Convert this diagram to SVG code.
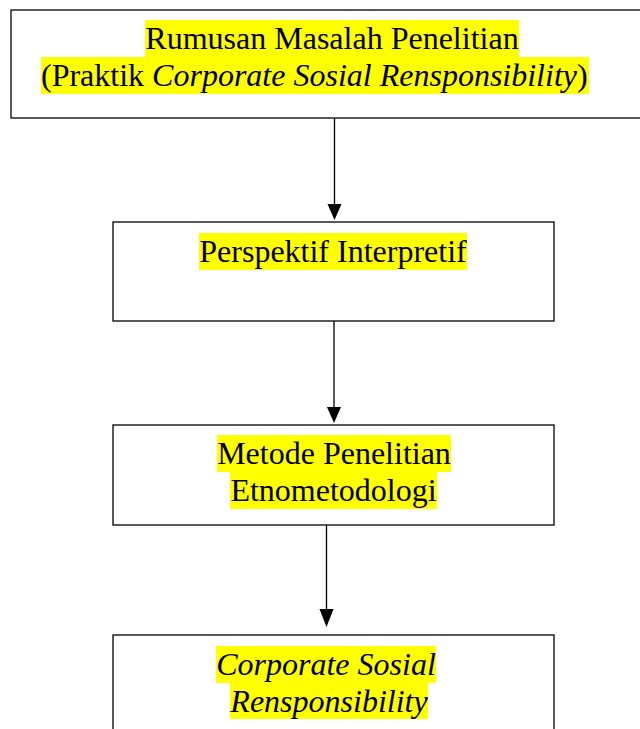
<svg xmlns="http://www.w3.org/2000/svg" width="640" height="729" viewBox="0 0 640 729">
<style>
.box{fill:#fff;stroke:#000;stroke-width:1.3}
.hl{fill:#ffff00}
.t{font-family:"Liberation Serif","Times New Roman",serif;font-size:32px;fill:#000}
.i{font-style:italic}
.c{stroke:#000;stroke-width:1.3;fill:none}
.ah{fill:#000}
</style>
<g id="connectors">
<line class="c" x1="334.5" y1="118" x2="334.5" y2="205"/>
<path class="ah" d="M327.5,204 L341.5,204 L334.5,220 Z"/>
<line class="c" x1="334" y1="321" x2="334" y2="408"/>
<path class="ah" d="M327,407 L341,407 L334,423 Z"/>
<line class="c" x1="326.5" y1="525" x2="326.5" y2="610"/>
<path class="ah" d="M319.5,609 L333.5,609 L326.5,627 Z"/>
</g>
<g id="node1">
<rect class="box" x="11" y="10" width="640" height="108"/>
<rect class="hl" x="145" y="20" width="374" height="37"/>
<rect class="hl" x="41" y="57" width="548" height="37"/>
<text class="t" x="332" y="49" text-anchor="middle">Rumusan Masalah Penelitian</text>
<text class="t" x="41" y="86">(Praktik <tspan class="i">Corporate Sosial Rensponsibility</tspan>)</text>
</g>
<g id="node2">
<rect class="box" x="113" y="222" width="441" height="99"/>
<rect class="hl" x="199" y="233" width="268" height="37"/>
<text class="t" x="333" y="262" text-anchor="middle">Perspektif Interpretif</text>
</g>
<g id="node3">
<rect class="box" x="113" y="425" width="441" height="100"/>
<rect class="hl" x="217" y="435" width="234" height="37"/>
<rect class="hl" x="230" y="472" width="207" height="37"/>
<text class="t" x="334" y="464" text-anchor="middle">Metode Penelitian</text>
<text class="t" x="333.5" y="501" text-anchor="middle">Etnometodologi</text>
</g>
<g id="node4">
<rect class="box" x="113" y="635" width="441" height="110"/>
<rect class="hl" x="216" y="646" width="220" height="37"/>
<rect class="hl" x="230" y="683" width="198" height="36"/>
<text class="t i" x="326" y="675" text-anchor="middle">Corporate Sosial</text>
<text class="t i" x="329" y="712" text-anchor="middle">Rensponsibility</text>
</g>
</svg>
